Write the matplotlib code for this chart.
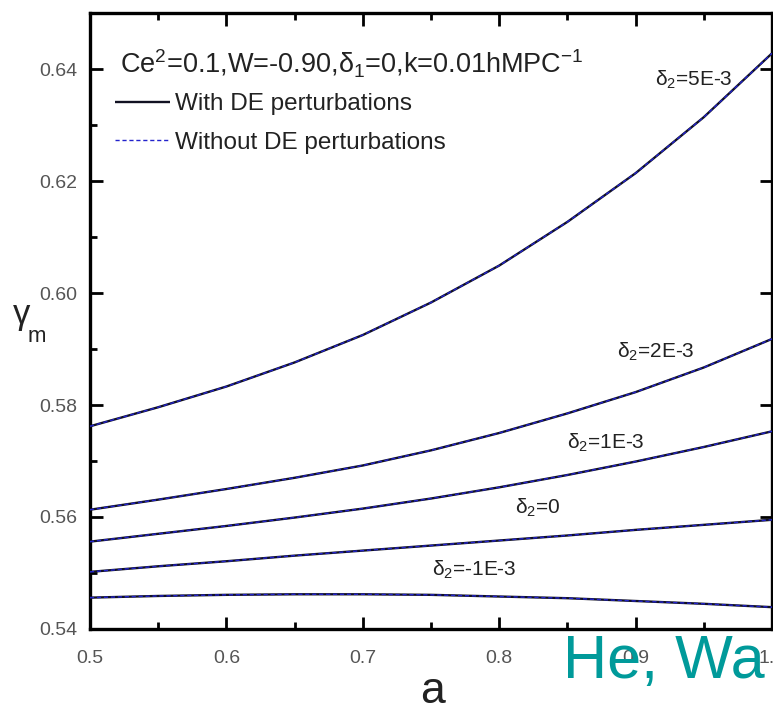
import matplotlib
matplotlib.use("Agg")
import matplotlib.pyplot as plt
import numpy as np

plt.rcParams['font.family'] = ['Liberation Sans', 'DejaVu Sans']
plt.rcParams['mathtext.fontset'] = 'custom'
plt.rcParams['mathtext.rm'] = 'Liberation Sans'
plt.rcParams['mathtext.it'] = 'Liberation Sans'
plt.rcParams['mathtext.sf'] = 'Liberation Sans'
plt.rcParams['mathtext.bf'] = 'Liberation Sans:bold'

# ---- data ----
a_vals = [0.50, 0.55, 0.60, 0.65, 0.70, 0.75, 0.80, 0.85, 0.90, 0.95, 1.00]
gamma_d2_5e3 = [0.5762, 0.5796, 0.5833, 0.5876, 0.5925, 0.5983, 0.6049, 0.6127, 0.6214, 0.6314, 0.6428]
gamma_d2_2e3 = [0.5613, 0.5631, 0.5650, 0.5670, 0.5692, 0.5719, 0.5750, 0.5785, 0.5823, 0.5867, 0.5918]
gamma_d2_1e3 = [0.5556, 0.5570, 0.5584, 0.5599, 0.5615, 0.5633, 0.5653, 0.5675, 0.5699, 0.5725, 0.5753]
gamma_d2_0 = [0.5502, 0.5512, 0.5521, 0.5531, 0.5540, 0.5549, 0.5558, 0.5567, 0.5577, 0.5586, 0.5595]
gamma_d2_m1e3 = [0.5456, 0.5459, 0.5461, 0.5462, 0.5462, 0.5461, 0.5458, 0.5455, 0.5450, 0.5445, 0.5439]

series = [gamma_d2_5e3, gamma_d2_2e3, gamma_d2_1e3, gamma_d2_0, gamma_d2_m1e3]
curve_labels = [r'$\delta_2$=5E-3', r'$\delta_2$=2E-3', r'$\delta_2$=1E-3',
                r'$\delta_2$=0', r'$\delta_2$=-1E-3']
label_pos = [(0.943, 0.6380), (0.915, 0.5895), (0.878, 0.5732), (0.828, 0.5616), (0.782, 0.5505)]

x_ticks = [0.5, 0.6, 0.7, 0.8, 0.9, 1.0]
x_ticklabels = ['0.5', '0.6', '0.7', '0.8', '0.9', '1.0']
y_ticks = [0.54, 0.56, 0.58, 0.60, 0.62, 0.64]
y_ticklabels = ['0.54', '0.56', '0.58', '0.60', '0.62', '0.64']

W, H = 773, 709
fig = plt.figure(figsize=(W / 100, H / 100), dpi=100)
ax = fig.add_axes([90 / W, (H - 629) / H, (772 - 90) / W, (629 - 13) / H])

for g in series:
    lw_line, = ax.plot(a_vals, g, color='#111122', lw=1.7, solid_capstyle='butt', zorder=3)
    wo_line, = ax.plot(a_vals, g, color='#2222cc', lw=1.0, ls=(0, (3, 2)), zorder=4)

ax.set_xlim(0.5, 1.0)
ax.set_ylim(0.54, 0.65)

ax.set_xticks(x_ticks)
ax.set_xticklabels(x_ticklabels)
ax.set_yticks(y_ticks)
ax.set_yticklabels(y_ticklabels)
ax.set_xticks([0.55, 0.65, 0.75, 0.85, 0.95], minor=True)
ax.set_yticks([0.55, 0.57, 0.59, 0.61, 0.63], minor=True)

ax.tick_params(which='major', direction='in', length=9, width=2.0, top=True, right=True,
               labelsize=14, labelcolor='#555555')
ax.tick_params(axis='x', which='major', pad=15)
ax.tick_params(axis='y', which='major', pad=9)
ax.tick_params(which='minor', direction='in', length=5, width=2.0, top=True, right=False)
for sp in ax.spines.values():
    sp.set_linewidth(2.4)

# curve annotations
for (x, y), lab in zip(label_pos, curve_labels):
    ax.text(x, y, lab, fontsize=15, color='#222222', ha='center', va='center')

# header text
ax.text(0.044, 0.918, r'Ce$^2$=0.1,W=-0.90,$\delta_1$=0,k=0.01hMPC$^{-1}$',
        transform=ax.transAxes, fontsize=19.5, color='#222222', ha='left', va='center')

leg = ax.legend([lw_line, wo_line], ['With DE perturbations', 'Without DE perturbations'],
                loc='upper left', bbox_to_anchor=(0.036, 0.870), frameon=False,
                fontsize=17.5, handlelength=2.3, handletextpad=0.2, borderpad=0,
                labelspacing=0.68, borderaxespad=0)
for t in leg.get_texts():
    t.set_color('#222222')

ax.set_xlabel('a', fontsize=32, color='#222222')
ax.xaxis.label.set_va('baseline')
ax.xaxis.set_label_coords((432 - 90) / 682, (629 - 703) / 616)

fig.text(13 / W, (H - 324) / H, 'γ', fontsize=25, color='#222222',
         ha='left', va='baseline')
fig.text(28 / W, (H - 342) / H, 'm', fontsize=16, color='#222222',
         ha='left', va='baseline')

fig.text(563 / W, (H - 678) / H, 'He, Wa', fontsize=44, color='#009a9a',
         ha='left', va='baseline', zorder=10)

fig.savefig('out.png', dpi=100)
